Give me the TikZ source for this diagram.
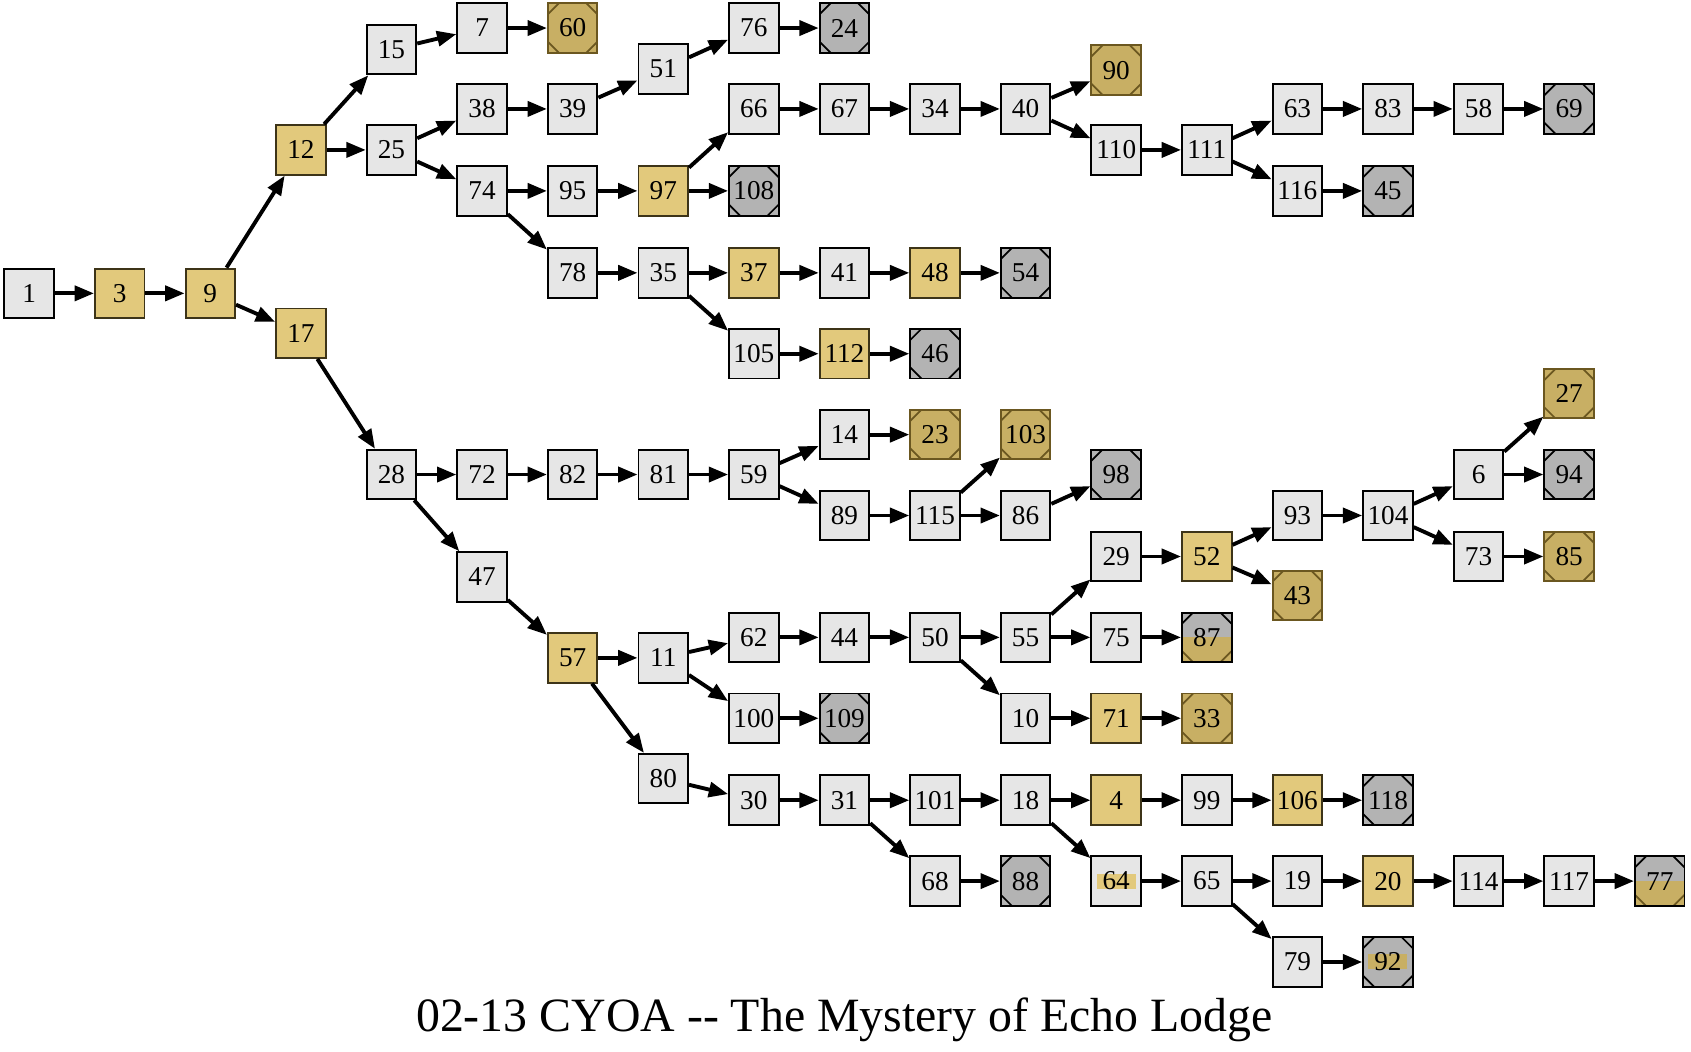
\documentclass[tikz,border=0pt]{standalone}
\usepackage{fontspec}
\setmainfont{Liberation Serif}
\usetikzlibrary{arrows.meta}

\definecolor{boxgray}{HTML}{E6E6E6}
\definecolor{keygold}{HTML}{E2C97C}
\definecolor{keyline}{HTML}{3D3418}
\definecolor{endgray}{HTML}{B3B3B3}
\definecolor{endgold}{HTML}{C8AF64}
\definecolor{endline}{HTML}{6B5720}

\newcommand\cornercut{0.22cm}
% corner cuts that turn a square into an octagon
\newcommand\cutstop[1]{%
  \draw[#1, line width=1pt]
    ([yshift=-\cornercut]path picture bounding box.north west) -- ([xshift=\cornercut]path picture bounding box.north west)
    ([xshift=-\cornercut]path picture bounding box.north east) -- ([yshift=-\cornercut]path picture bounding box.north east);}
\newcommand\cutsbottom[1]{%
  \draw[#1, line width=1pt]
    ([yshift=\cornercut]path picture bounding box.south west) -- ([xshift=\cornercut]path picture bounding box.south west)
    ([xshift=-\cornercut]path picture bounding box.south east) -- ([yshift=\cornercut]path picture bounding box.south east);}
\newcommand\textband[1]{%
  \fill[#1] ([xshift=-0.39cm, yshift=-0.15cm]path picture bounding box.center)
    rectangle ([xshift=0.39cm, yshift=0.15cm]path picture bounding box.center);}

\begin{document}
\begin{tikzpicture}[
    x=0.021568cm, y=-0.021568cm,
    every node/.style={font=\fontsize{15.5}{18}\selectfont},
    choice/.style={draw=black, line width=1.1pt, fill=boxgray, minimum size=0.99cm, inner sep=0pt},
    keychoice/.style={choice, draw=keyline, fill=keygold},
    markedchoice/.style={choice, path picture={\textband{keygold}}},
    ending/.style={choice, fill=endgray, path picture={\cutstop{black}\cutsbottom{black}}},
    goodending/.style={choice, draw=endline, fill=endgold, path picture={\cutstop{endline}\cutsbottom{endline}}},
    mixending/.style={choice, fill=endgray, path picture={%
        \fill[endgold] (path picture bounding box.west) rectangle (path picture bounding box.south east);
        \cutstop{black}\cutsbottom{endline}}},
    markedending/.style={choice, fill=endgray, path picture={\textband{endgold}\cutstop{black}\cutsbottom{black}}},
    link/.style={-{Triangle[length=11pt, width=8.5pt]}, line width=2.2pt}
]
\useasboundingbox (0,0) rectangle (1568,975);

\node[choice] (n1) at (27,272) {1};
\node[keychoice] (n3) at (111,272) {3};
\node[keychoice] (n9) at (195,272) {9};
\node[keychoice] (n12) at (279,139) {12};
\node[keychoice] (n17) at (279,309) {17};
\node[choice] (n15) at (363,46) {15};
\node[choice] (n25) at (363,139) {25};
\node[choice] (n28) at (363,440) {28};
\node[choice] (n7) at (447,26) {7};
\node[choice] (n38) at (447,101) {38};
\node[choice] (n74) at (447,177) {74};
\node[choice] (n72) at (447,440) {72};
\node[choice] (n47) at (447,535) {47};
\node[goodending] (n60) at (531,26) {60};
\node[choice] (n39) at (531,101) {39};
\node[choice] (n95) at (531,177) {95};
\node[choice] (n78) at (531,253) {78};
\node[choice] (n82) at (531,440) {82};
\node[keychoice] (n57) at (531,610) {57};
\node[choice] (n51) at (615,64) {51};
\node[keychoice] (n97) at (615,177) {97};
\node[choice] (n35) at (615,253) {35};
\node[choice] (n81) at (615,440) {81};
\node[choice] (n11) at (615,610) {11};
\node[choice] (n80) at (615,722) {80};
\node[choice] (n76) at (699,26) {76};
\node[choice] (n66) at (699,101) {66};
\node[ending] (n108) at (699,177) {108};
\node[keychoice] (n37) at (699,253) {37};
\node[choice] (n105) at (699,328) {105};
\node[choice] (n59) at (699,440) {59};
\node[choice] (n62) at (699,591) {62};
\node[choice] (n100) at (699,666) {100};
\node[choice] (n30) at (699,742) {30};
\node[ending] (n24) at (783,26) {24};
\node[choice] (n67) at (783,101) {67};
\node[choice] (n41) at (783,253) {41};
\node[keychoice] (n112) at (783,328) {112};
\node[choice] (n14) at (783,403) {14};
\node[choice] (n89) at (783,478) {89};
\node[choice] (n44) at (783,591) {44};
\node[ending] (n109) at (783,666) {109};
\node[choice] (n31) at (783,742) {31};
\node[choice] (n34) at (867,101) {34};
\node[keychoice] (n48) at (867,253) {48};
\node[ending] (n46) at (867,328) {46};
\node[goodending] (n23) at (867,403) {23};
\node[choice] (n115) at (867,478) {115};
\node[choice] (n50) at (867,591) {50};
\node[choice] (n101) at (867,742) {101};
\node[choice] (n68) at (867,817) {68};
\node[choice] (n40) at (951,101) {40};
\node[ending] (n54) at (951,253) {54};
\node[goodending] (n103) at (951,403) {103};
\node[choice] (n86) at (951,478) {86};
\node[choice] (n55) at (951,591) {55};
\node[choice] (n10) at (951,666) {10};
\node[choice] (n18) at (951,742) {18};
\node[ending] (n88) at (951,817) {88};
\node[goodending] (n90) at (1035,65) {90};
\node[choice] (n110) at (1035,139) {110};
\node[ending] (n98) at (1035,440) {98};
\node[choice] (n29) at (1035,516) {29};
\node[choice] (n75) at (1035,591) {75};
\node[keychoice] (n71) at (1035,666) {71};
\node[keychoice] (n4) at (1035,742) {4};
\node[markedchoice] (n64) at (1035,817) {64};
\node[choice] (n111) at (1119,139) {111};
\node[keychoice] (n52) at (1119,516) {52};
\node[mixending] (n87) at (1119,591) {87};
\node[goodending] (n33) at (1119,666) {33};
\node[choice] (n99) at (1119,742) {99};
\node[choice] (n65) at (1119,817) {65};
\node[choice] (n63) at (1203,101) {63};
\node[choice] (n116) at (1203,177) {116};
\node[choice] (n93) at (1203,478) {93};
\node[goodending] (n43) at (1203,552) {43};
\node[keychoice] (n106) at (1203,742) {106};
\node[choice] (n19) at (1203,817) {19};
\node[choice] (n79) at (1203,892) {79};
\node[choice] (n83) at (1287,101) {83};
\node[ending] (n45) at (1287,177) {45};
\node[choice] (n104) at (1287,478) {104};
\node[ending] (n118) at (1287,742) {118};
\node[keychoice] (n20) at (1287,817) {20};
\node[markedending] (n92) at (1287,892) {92};
\node[choice] (n58) at (1371,101) {58};
\node[choice] (n6) at (1371,440) {6};
\node[choice] (n73) at (1371,516) {73};
\node[choice] (n114) at (1371,817) {114};
\node[ending] (n69) at (1455,101) {69};
\node[goodending] (n27) at (1455,365) {27};
\node[ending] (n94) at (1455,440) {94};
\node[goodending] (n85) at (1455,516) {85};
\node[choice] (n117) at (1455,817) {117};
\node[mixending] (n77) at (1539,817) {77};

\node[font=\fontsize{27.2}{32}\selectfont, anchor=base] (title) at (783,956) {02-13 CYOA -\kern0pt- The Mystery of Echo Lodge};

\draw[link] (n1) -- (n3);
\draw[link] (n3) -- (n9);
\draw[link] (n9) -- (n12);
\draw[link] (n9) -- (n17);
\draw[link] (n12) -- (n15);
\draw[link] (n12) -- (n25);
\draw[link] (n15) -- (n7);
\draw[link] (n7) -- (n60);
\draw[link] (n25) -- (n38);
\draw[link] (n25) -- (n74);
\draw[link] (n38) -- (n39);
\draw[link] (n39) -- (n51);
\draw[link] (n51) -- (n76);
\draw[link] (n76) -- (n24);
\draw[link] (n74) -- (n95);
\draw[link] (n74) -- (n78);
\draw[link] (n95) -- (n97);
\draw[link] (n97) -- (n66);
\draw[link] (n97) -- (n108);
\draw[link] (n66) -- (n67);
\draw[link] (n67) -- (n34);
\draw[link] (n34) -- (n40);
\draw[link] (n40) -- (n90);
\draw[link] (n40) -- (n110);
\draw[link] (n110) -- (n111);
\draw[link] (n111) -- (n63);
\draw[link] (n111) -- (n116);
\draw[link] (n63) -- (n83);
\draw[link] (n83) -- (n58);
\draw[link] (n58) -- (n69);
\draw[link] (n116) -- (n45);
\draw[link] (n78) -- (n35);
\draw[link] (n35) -- (n37);
\draw[link] (n35) -- (n105);
\draw[link] (n37) -- (n41);
\draw[link] (n41) -- (n48);
\draw[link] (n48) -- (n54);
\draw[link] (n105) -- (n112);
\draw[link] (n112) -- (n46);
\draw[link] (n17) -- (n28);
\draw[link] (n28) -- (n72);
\draw[link] (n28) -- (n47);
\draw[link] (n72) -- (n82);
\draw[link] (n82) -- (n81);
\draw[link] (n81) -- (n59);
\draw[link] (n59) -- (n14);
\draw[link] (n59) -- (n89);
\draw[link] (n14) -- (n23);
\draw[link] (n89) -- (n115);
\draw[link] (n115) -- (n103);
\draw[link] (n115) -- (n86);
\draw[link] (n86) -- (n98);
\draw[link] (n47) -- (n57);
\draw[link] (n57) -- (n11);
\draw[link] (n57) -- (n80);
\draw[link] (n11) -- (n62);
\draw[link] (n11) -- (n100);
\draw[link] (n62) -- (n44);
\draw[link] (n44) -- (n50);
\draw[link] (n50) -- (n55);
\draw[link] (n50) -- (n10);
\draw[link] (n55) -- (n29);
\draw[link] (n55) -- (n75);
\draw[link] (n29) -- (n52);
\draw[link] (n52) -- (n93);
\draw[link] (n52) -- (n43);
\draw[link] (n93) -- (n104);
\draw[link] (n104) -- (n6);
\draw[link] (n104) -- (n73);
\draw[link] (n6) -- (n27);
\draw[link] (n6) -- (n94);
\draw[link] (n73) -- (n85);
\draw[link] (n75) -- (n87);
\draw[link] (n10) -- (n71);
\draw[link] (n71) -- (n33);
\draw[link] (n100) -- (n109);
\draw[link] (n80) -- (n30);
\draw[link] (n30) -- (n31);
\draw[link] (n31) -- (n101);
\draw[link] (n31) -- (n68);
\draw[link] (n101) -- (n18);
\draw[link] (n18) -- (n4);
\draw[link] (n18) -- (n64);
\draw[link] (n4) -- (n99);
\draw[link] (n99) -- (n106);
\draw[link] (n106) -- (n118);
\draw[link] (n68) -- (n88);
\draw[link] (n64) -- (n65);
\draw[link] (n65) -- (n19);
\draw[link] (n65) -- (n79);
\draw[link] (n19) -- (n20);
\draw[link] (n20) -- (n114);
\draw[link] (n114) -- (n117);
\draw[link] (n117) -- (n77);
\draw[link] (n79) -- (n92);
\end{tikzpicture}
\end{document}
